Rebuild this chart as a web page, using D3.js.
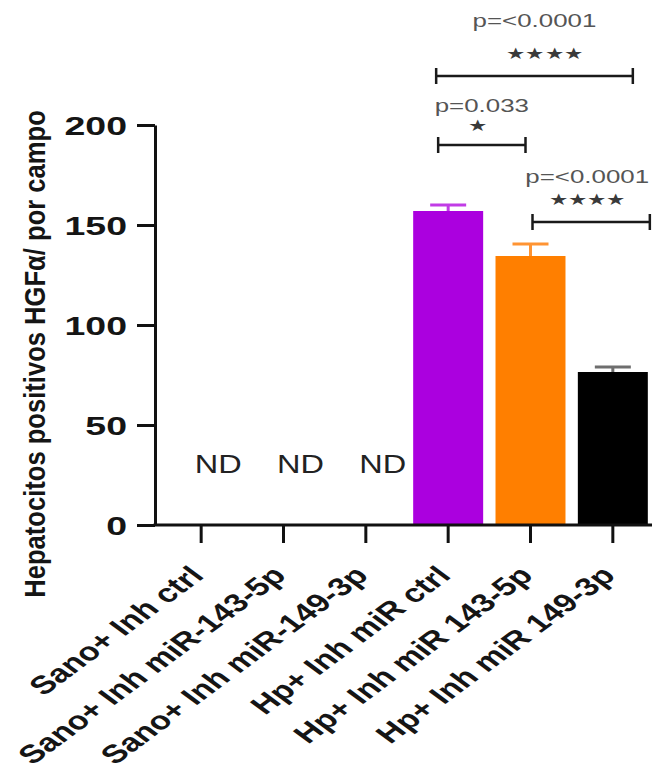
<!DOCTYPE html>
<html>
<head>
<meta charset="utf-8">
<script src="https://cdn.jsdelivr.net/npm/d3@7"></script>
<style>
    body { margin: 0; background: #fff; }
    svg { display: block; }
    text { font-family: "Liberation Sans", Arial, sans-serif; }
</style>
</head>
<body>
<svg id="chart"></svg>
<script>

// values
const groups = [
    "Sano+ Inh ctrl",
    "Sano+ Inh miR-143-5p",
    "Sano+ Inh miR-149-3p",
    "Hp+ Inh miR ctrl",
    "Hp+ Inh miR 143-5p",
    "Hp+ Inh miR 149-3p"
];
const means = [null, null, null, 157, 134.5, 76.5];
const errors = [null, null, null, 3, 6, 2.5];
const barColors = ["#000", "#000", "#000", "#ab00df", "#ff7f00", "#000"];
const capColors = ["#000", "#000", "#000", "#c13ce6", "#ff9433", "#6e6e6e"];
const yTicks = [0, 50, 100, 150, 200];
const comparisons = [
    { from: 3, to: 5, p: "p=<0.0001", stars: 4 },
    { from: 3, to: 4, p: "p=0.033", stars: 1 },
    { from: 4, to: 5, p: "p=<0.0001", stars: 4 }
];

// picture is stretched sideways, text has to follow
const width = 652, height = 778;
const axisX = 155;

const svg = d3.select("#chart")
    .attr("width", width)
    .attr("height", height);

const x = d3.scaleBand()
    .domain(groups)
    .range([160, 654])
    .paddingInner(0.15)
    .paddingOuter(0.075);

const y = d3.scaleLinear()
    .domain([0, 200])
    .range([525, 125]);

const cx = i => x(groups[i]) + x.bandwidth() / 2;

// bars
const bars = groups.map((g, i) => ({ g, i, m: means[i], e: errors[i] }))
    .filter(d => d.m !== null);

svg.selectAll("rect.bar")
    .data(bars)
    .join("rect")
        .attr("class", "bar")
        .attr("x", d => x(d.g))
        .attr("y", d => y(d.m))
        .attr("width", x.bandwidth())
        .attr("height", d => y(0) - y(d.m))
        .attr("fill", d => barColors[d.i]);

const err = svg.selectAll("g.err")
    .data(bars)
    .join("g")
        .attr("class", "err")
        .attr("stroke", d => capColors[d.i])
        .attr("stroke-width", 3);

err.append("line")
    .attr("x1", d => cx(d.i))
    .attr("x2", d => cx(d.i))
    .attr("y1", d => y(d.m))
    .attr("y2", d => y(d.m + d.e));

err.append("line")
    .attr("x1", d => cx(d.i) - 18)
    .attr("x2", d => cx(d.i) + 18)
    .attr("y1", d => y(d.m + d.e))
    .attr("y2", d => y(d.m + d.e));

// ND labels
svg.selectAll("text.nd")
    .data(groups.map((g, i) => ({ g, i })).filter(d => means[d.i] === null))
    .join("text")
        .attr("class", "nd")
        .attr("transform", d => `translate(${cx(d.i) + 17},473) scale(1.25,1)`)
        .attr("text-anchor", "middle")
        .attr("font-size", 26)
        .attr("fill", "#222")
        .text("ND");

// y axis
const yAxis = svg.append("g")
    .attr("transform", `translate(${axisX},0)`)
    .call(d3.axisLeft(y).tickValues(yTicks).tickSize(18).tickSizeOuter(0).tickPadding(0));

yAxis.select(".domain").attr("stroke", "#111").attr("stroke-width", 3);
yAxis.selectAll(".tick line").attr("stroke", "#111").attr("stroke-width", 3);
yAxis.selectAll(".tick text")
    .attr("x", null)
    .attr("dy", null)
    .attr("transform", "translate(-28,9) scale(1.5,1)")
    .attr("font-size", 25)
    .attr("font-weight", "bold")
    .attr("fill", "#151515");

// x axis
svg.append("line")
    .attr("x1", axisX - 1.5)
    .attr("x2", width)
    .attr("y1", y(0))
    .attr("y2", y(0))
    .attr("stroke", "#111")
    .attr("stroke-width", 3);

const xAxis = svg.append("g")
    .attr("transform", `translate(0,${y(0)})`)
    .call(d3.axisBottom(x).tickSize(18).tickSizeOuter(0));

xAxis.select(".domain").remove();
xAxis.selectAll(".tick line").attr("stroke", "#111").attr("stroke-width", 3);
xAxis.selectAll(".tick text")
    .attr("y", null)
    .attr("dy", null)
    .attr("text-anchor", "end")
    .attr("transform", "translate(4,52) scale(1.35,1) rotate(-45)")
    .attr("font-size", 25.5)
    .attr("font-weight", "bold")
    .attr("fill", "#151515");

// y title
svg.append("text")
    .attr("transform", "translate(45,354) rotate(-90) scale(1,1.12)")
    .attr("text-anchor", "middle")
    .attr("font-size", 25.6)
    .attr("font-weight", "bold")
    .attr("fill", "#151515")
    .text("Hepatocitos positivos HGF\u03b1/ por campo");

// significance brackets
const layout = [
    { level: 224.5, x1: -12, x2: 20, pUp: 49, pDx: 0, sUp: 23, sDx: 10 },
    { level: 190, x1: -10, x2: -5, pUp: 33, pDx: 0, sUp: 20, sDx: -4 },
    { level: 151.5, x1: 2, x2: 37, pUp: 39, pDx: -4, sUp: 23, sDx: -4 }
];

const brackets = svg.selectAll("g.sig")
    .data(comparisons)
    .join("g")
        .attr("class", "sig");

brackets.each(function (d, i) {
    const L = layout[i];
    const g = d3.select(this);
    const by = y(L.level);
    const x1 = cx(d.from) + L.x1;
    const x2 = cx(d.to) + L.x2;
    const mid = (x1 + x2) / 2;

    g.append("path")
        .attr("d", `M${x1},${by - 8}V${by + 8}M${x1},${by}H${x2}M${x2},${by - 8}V${by + 8}`)
        .attr("stroke", "#1a1a1a")
        .attr("stroke-width", 2.5)
        .attr("fill", "none");

    g.append("text")
        .attr("transform", `translate(${mid + L.pDx},${by - L.pUp}) scale(1.4,1)`)
        .attr("text-anchor", "middle")
        .attr("font-size", 18.5)
        .attr("fill", "#555")
        .text(d.p);

    g.append("text")
        .attr("transform", `translate(${mid + L.sDx},${by - L.sUp + 6}) scale(1.35,1)`)
        .attr("text-anchor", "middle")
        .attr("font-family", "DejaVu Sans")
        .attr("font-size", 16)
        .attr("fill", "#3a3a3a")
        .text("\u2605".repeat(d.stars));
});

</script>
</body>
</html>
